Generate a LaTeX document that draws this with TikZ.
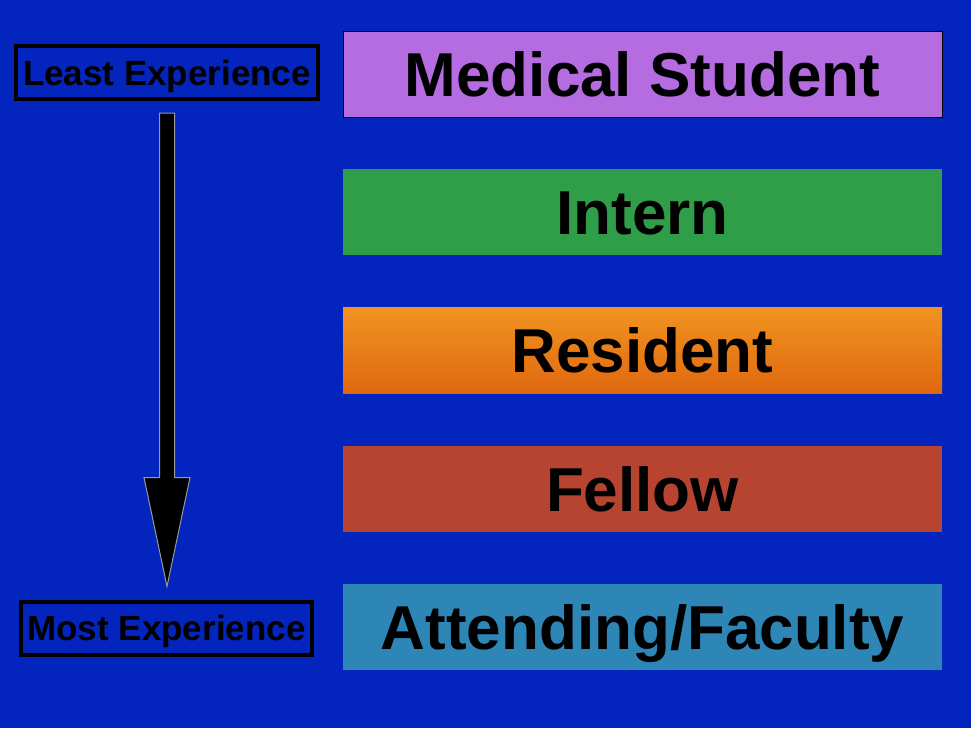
\documentclass[tikz,border=0pt]{standalone}
\usepackage{fontspec}
\setmainfont{Liberation Sans}
\usetikzlibrary{positioning}
\usetikzlibrary{calc}

\definecolor{slideblue}{RGB}{4,36,190}
\definecolor{studentpurple}{RGB}{180,108,224}
\definecolor{interngreen}{RGB}{48,158,72}
\definecolor{residenttop}{RGB}{240,148,32}
\definecolor{residentbot}{RGB}{224,104,16}
\definecolor{fellowred}{RGB}{182,68,48}
\definecolor{facultyblue}{RGB}{46,134,182}

\begin{document}
\begin{tikzpicture}[x=1pt,y=-1pt,
    level/.style={rectangle, minimum width=599pt, minimum height=86pt, inner sep=0pt, outer sep=0pt,
      text height=44.5pt, text depth=0pt, font=\fontsize{62}{62}\selectfont\bfseries},
    tag/.style={rectangle, draw=black, line width=4pt, inner sep=0pt, minimum height=53pt,
      text height=25pt, text depth=0pt, font=\fontsize{35}{35}\selectfont\bfseries}]
            \fill[slideblue] (0,0) rectangle (971,728);
            \useasboundingbox (0,0) rectangle (971,728);
            % the ladder
            \node[level, fill=studentpurple, draw=black, line width=0.8pt] (student) at (642.5,74) {Medical Student};
            \node[level, fill=interngreen, below=52pt of student] (intern) {Intern};
            \node[level, top color=residenttop, bottom color=residentbot, below=52pt of intern] (resident) {Resident};
            \node[level, fill=fellowred, below=53pt of resident] (fellow) {Fellow};
            \node[level, fill=facultyblue, below=52pt of fellow] (faculty) {Attending/Faculty};
            % experience labels
            \node[tag, minimum width=302pt] (least) at (167,72.5) {Least Experience};
            \node[tag, minimum width=291pt] (most) at (166.5,628) {Most Experience};
            \coordinate (tail) at ([yshift=-12pt]least.south);
            \coordinate (tip) at ($(tail |- most.north)+(0,-13)$);
            \draw[draw=gray!80, fill=black, line width=1pt, line join=miter]
              ($(tail)+(-7.5,0)$) -- ($(tail)+(7.5,0)$) -- ($(tip)+(7.5,-109)$) -- ($(tip)+(23,-109)$)
              -- (tip) -- ($(tip)+(-23,-109)$) -- ($(tip)+(-7.5,-109)$) -- cycle;
        \end{tikzpicture}
\end{document}
